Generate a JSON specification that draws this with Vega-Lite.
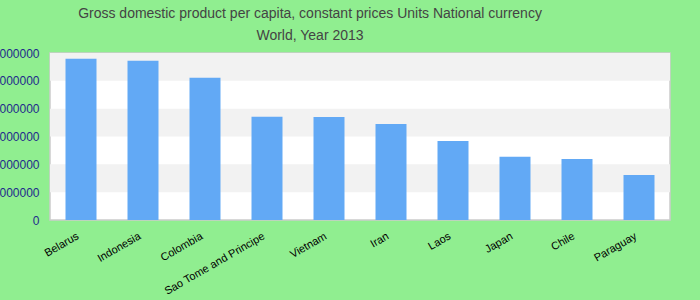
{
  "$schema": "https://vega.github.io/schema/vega-lite/v6.json",
  "autosize": {"type": "none"},
  "padding": {"left": 50, "top": 53, "right": 30, "bottom": 80},
  "width": 620,
  "height": 167,
  "background": "#90EE90",
  "config": {
    "font": "Liberation Sans",
    "axis": {"labelOverlap": false},
    "view": {"fill": "white", "stroke": "#cccccc", "strokeWidth": 1.5}
  },
  "title": {
    "text": ["Gross domestic product per capita, constant prices Units National currency", "World, Year 2013"],
    "fontSize": 14,
    "fontWeight": "normal",
    "color": "#444444",
    "lineHeight": 22,
    "offset": 4,
    "anchor": "middle",
    "frame": "group",
    "dx": -50
  },
  "datasets": {
    "bands": [
      {"lo": 1000000, "hi": 2000000},
      {"lo": 3000000, "hi": 4000000},
      {"lo": 5000000, "hi": 6000000}
    ],
    "gdp": [
      {"country": "Belarus", "value": 5790000},
      {"country": "Indonesia", "value": 5720000},
      {"country": "Colombia", "value": 5110000},
      {"country": "Sao Tome and Principe", "value": 3710000},
      {"country": "Vietnam", "value": 3700000},
      {"country": "Iran", "value": 3450000},
      {"country": "Laos", "value": 2840000},
      {"country": "Japan", "value": 2270000},
      {"country": "Chile", "value": 2190000},
      {"country": "Paraguay", "value": 1620000}
    ]
  },
  "layer": [
    {
      "data": {"name": "bands"},
      "mark": {"type": "rect", "color": "#f2f2f2"},
      "encoding": {
        "y": {
          "field": "lo",
          "type": "quantitative",
          "scale": {"domain": [0, 6000000], "nice": false},
          "axis": {"title": null, "values": [0, 1000000, 2000000, 3000000, 4000000, 5000000, 6000000], "format": "d", "grid": false, "ticks": false, "domain": false, "labelOverlap": false, "labelPadding": 11, "labelFontSize": 12, "labelColor": "#1f2a8c"}
        },
        "y2": {"field": "hi"}
      }
    },
    {
      "data": {"name": "gdp"},
      "mark": {"type": "bar", "color": "#62a9f5"},
      "encoding": {
        "x": {
          "field": "country",
          "type": "nominal",
          "sort": null,
          "scale": {"paddingInner": 0.5, "paddingOuter": 0.25},
          "axis": {"title": null, "labelAngle": -30, "labelFontSize": 11, "labelColor": "#000000", "ticks": false, "domain": false, "labelPadding": 10, "labelOffset": -6}
        },
        "y": {
          "field": "value",
          "type": "quantitative",
          "scale": {"domain": [0, 6000000], "nice": false},
          "axis": {"title": null, "values": [0, 1000000, 2000000, 3000000, 4000000, 5000000, 6000000], "format": "d", "grid": false, "ticks": false, "domain": false, "labelOverlap": false, "labelPadding": 11, "labelFontSize": 12, "labelColor": "#1f2a8c"}
        }
      }
    }
  ]
}
